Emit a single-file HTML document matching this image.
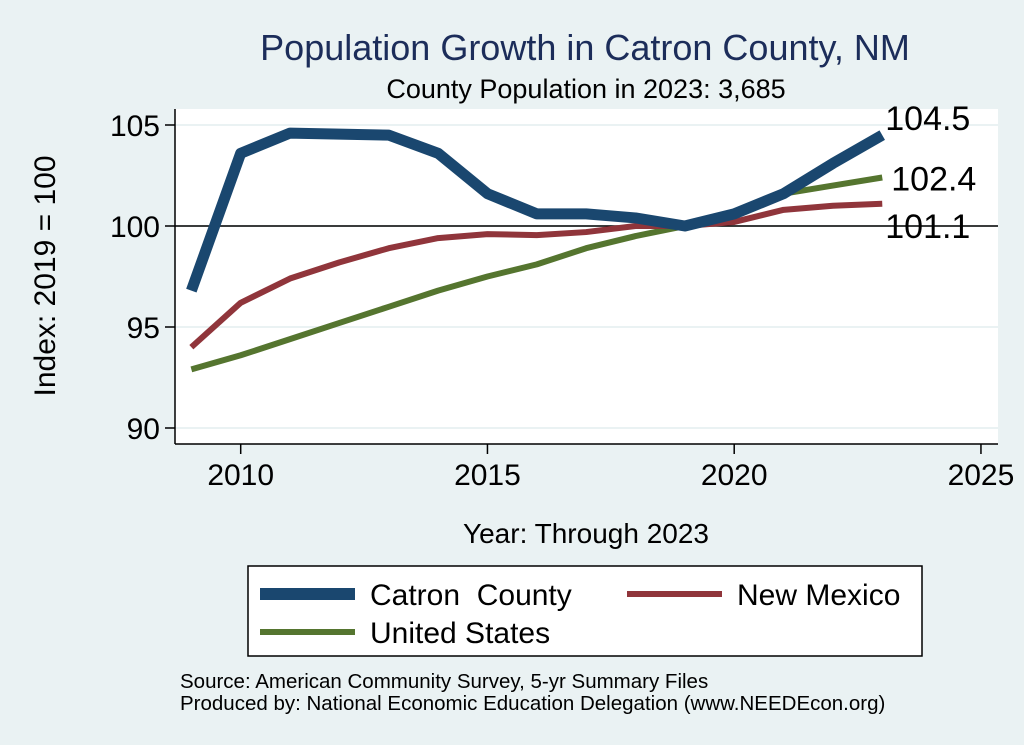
<!DOCTYPE html>
<html><head><meta charset="utf-8"><style>
body{margin:0;background:#eaf2f3;}
svg{display:block;font-family:"Liberation Sans",Arial,sans-serif;}
</style></head><body>
<svg width="1024" height="745">
<rect x="0" y="0" width="1024" height="745" fill="#eaf2f3"/>
<rect x="175" y="109" width="823" height="335" fill="#ffffff"/>
<text x="585" y="60" font-size="36" fill="#1c2d5a" text-anchor="middle">Population Growth in Catron County, NM</text>
<text x="586" y="98" font-size="27" fill="#000" text-anchor="middle">County Population in 2023: 3,685</text>
<g id="grid"></g>
<g id="axes"></g>
<g id="series"></g>
<text x="55" y="276" font-size="30" text-anchor="middle" transform="rotate(-90 55 276)">Index: 2019 = 100</text>
<text x="586" y="543" font-size="28" text-anchor="middle">Year: Through 2023</text>
<g>
<rect x="248" y="566" width="674" height="90" fill="#fff" stroke="#000" stroke-width="1.5"/>
<line x1="260" y1="594" x2="355" y2="594" stroke="#1a476f" stroke-width="12"/>
<text x="370" y="605" font-size="30" style="white-space:pre">Catron  County</text>
<line x1="627" y1="594" x2="722" y2="594" stroke="#90353b" stroke-width="6"/>
<text x="737" y="605" font-size="30">New Mexico</text>
<line x1="260" y1="632" x2="355" y2="632" stroke="#55752f" stroke-width="6"/>
<text x="370" y="643" font-size="30">United States</text>
</g>
<text x="180" y="688" font-size="20.5">Source: American Community Survey, 5-yr Summary Files</text>
<text x="180" y="710" font-size="20.5">Produced by: National Economic Education Delegation (www.NEEDEcon.org)</text>
</svg>
<script>
const years=[2009,2010,2011,2012,2013,2014,2015,2016,2017,2018,2019,2020,2021,2022,2023];
const catron=[96.8,103.6,104.6,104.55,104.5,103.6,101.6,100.6,100.6,100.4,100,100.6,101.6,103.1,104.5];
const newMexico=[94.0,96.2,97.4,98.2,98.9,99.4,99.6,99.55,99.7,100,100,100.2,100.8,101.0,101.1];
const unitedStates=[92.9,93.6,94.4,95.2,96.0,96.8,97.5,98.1,98.9,99.5,100,100.5,101.6,102.0,102.4];
const xTicks=[2010,2015,2020,2025];
const yTicks=[90,95,100,105];
const labels=["104.5","102.4","101.1"];
const NS="http://www.w3.org/2000/svg";
function sx(v){return 240.7+(v-2010)*49.35;}
function sy(v){return 226+(100-v)*20.2;}
function mk(tag,attrs,parent){const e=document.createElementNS(NS,tag);for(const k in attrs)e.setAttribute(k,attrs[k]);document.getElementById(parent).appendChild(e);return e;}
yTicks.forEach(t=>{
 const g=mk('line',{x1:175,x2:998,y1:sy(t),y2:sy(t),stroke:'#eaf2f3','stroke-width':2},'grid');
 
 
 const tk=mk('line',{x1:165,x2:175,y1:sy(t),y2:sy(t),stroke:'#000','stroke-width':1.5},'axes');
 
 
 const tx=mk('text',{x:160,y:sy(t)+11,'font-size':30,'text-anchor':'end'},'axes');
 tx.textContent=t;
 
 
});
const ref=mk('line',{x1:175,x2:998,y1:sy(100),y2:sy(100),stroke:'#000','stroke-width':1.5},'grid');


const ya=mk('line',{x1:175,x2:175,y1:109,y2:444,stroke:'#000','stroke-width':1.5},'axes');


const xa=mk('line',{x1:175,x2:998,y1:444,y2:444,stroke:'#000','stroke-width':1.5},'axes');


xTicks.forEach(t=>{
 const tk=mk('line',{x1:sx(t),x2:sx(t),y1:444,y2:454,stroke:'#000','stroke-width':1.5},'axes');
 
 
 const tx=mk('text',{x:sx(t),y:485,'font-size':30,'text-anchor':'middle'},'axes');
 tx.textContent=t;
 
 
});
const series=[[unitedStates,'#55752f',6,'line-united-states'],[newMexico,'#90353b',6,'line-new-mexico'],[catron,'#1a476f',11,'line-catron-county']];
series.forEach(s=>{
 const p=mk('polyline',{points:years.map((y,i)=>sx(y)+','+sy(s[0][i])).join(' '),fill:'none',stroke:s[1],'stroke-width':s[2],'stroke-linejoin':'round'},'series');
 
 
});
const ends=[catron,unitedStates,newMexico];
const dy=[-5,13,34];
const dx=[3,9,3];
ends.forEach((s,i)=>{
 const v=s[s.length-1];
 const tx=mk('text',{x:sx(2023)+dx[i],y:sy(v)+dy[i],'font-size':34},'series');
 tx.textContent=labels[i];
 
 
});
</script>
</body></html>
